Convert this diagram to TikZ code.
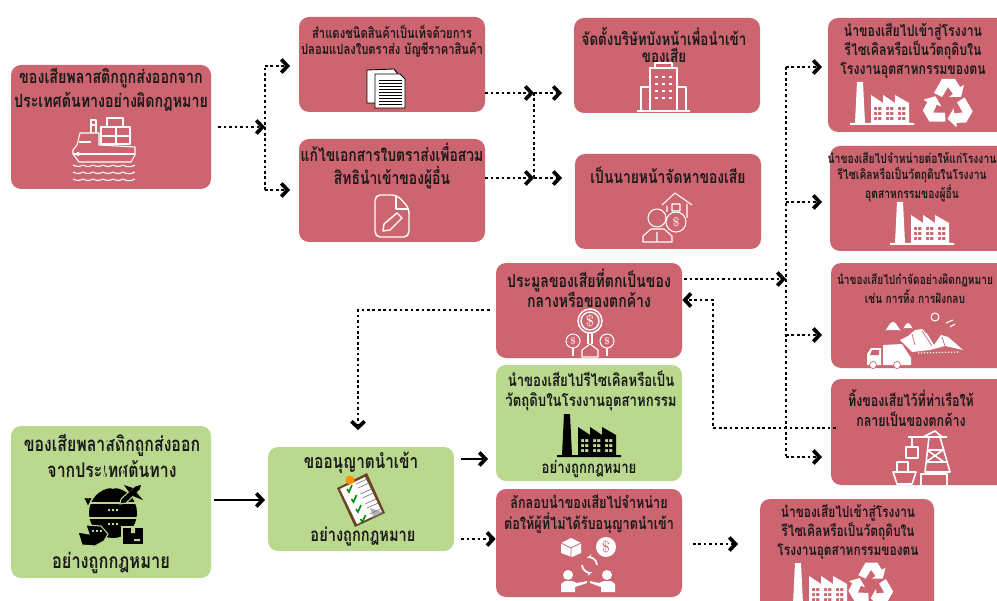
\documentclass[tikz,border=0pt]{standalone}
\usepackage{fontspec}
\newfontfamily\thaifont[Script=Thai,FakeStretch=0.78,Scale=1.3]{Loma}
\usetikzlibrary{arrows.meta,fit}
\definecolor{badred}{HTML}{CD6570}
\definecolor{okgreen}{HTML}{BAD88E}
\definecolor{inkblack}{HTML}{1A1A1A}
\newcommand{\thsize}[2]{\thaifont\bfseries\fontsize{#1}{#2}\selectfont}
\tikzset{
  redbox/.style={fill=badred,rounded corners=0.2cm,inner sep=0pt,draw=none},
  greenbox/.style={fill=okgreen,rounded corners=0.2cm,inner sep=0pt,draw=none},
  boxtxt/.style={text=inkblack,align=center,inner sep=0pt},
  dotline/.style={line width=1.5pt,dash pattern=on 1.5pt off 1.6pt,-{Straight Barb[length=3.5pt,width=7.5pt,line width=2.1pt]}},
  dotplain/.style={line width=1.5pt,dash pattern=on 1.5pt off 1.6pt},
  fullline/.style={line width=1.5pt,-{Straight Barb[length=3.5pt,width=7.5pt,line width=2.1pt]}},
  outl/.style={draw=white,line width=0.6pt,line join=round},
  factory/.pic={
    \fill[pic actions,even odd rule] (-31,0)--(33,0)--(33,-2)--(28,-2)--(28,-22)--(14,-30)--(14,-22)--(2,-30)--(2,-22)--(-10,-30)--(-10,-2)
      --(-16,-2)--(-18,-43)--(-24,-43)--(-26,-2)--(-31,-2)--cycle
      \foreach \wx in {-7,5,17} \foreach \wy in {-18,-13,-8} {(\wx,\wy) rectangle ++(3.2,3.2) (\wx+4.2,\wy) rectangle ++(3.2,3.2)};
  },
  recycle/.pic={
    \foreach \ang in {0,120,240}
      \fill[white,rotate=\ang] (-14,-11)--(-6,-25)--(7,-25)--(12,-17)--(16,-19)--(13,-7)--(1,-7)--(5,-10)--(0,-17)--(-6,-7)--cycle;
  },
}
\begin{document}
\begin{tikzpicture}[x=0.02cm,y=-0.02cm]
  \useasboundingbox (0,0) rectangle (997,601);
  \fill[white] (0,0) rectangle (997,601);

  % boxes
  \node[redbox,fit={(11,65)(211,189)}] (illegalsrc) {};
  \node[redbox,fit={(299,17)(485,112)}] (fakedoc) {};
  \node[redbox,fit={(299,139)(485,242)}] (editdoc) {};
  \node[redbox,fit={(574,18)(760,113)}] (shell) {};
  \node[redbox,fit={(575,154)(761,249)}] (broker) {};
  \node[redbox,fit={(828,18)(1012,132)}] (ownplant) {};
  \node[redbox,fit={(830,146)(1012,251)}] (resale) {};
  \node[redbox,fit={(831,263)(1012,368)}] (dumping) {};
  \node[redbox,fit={(831,379)(1012,485)}] (portleft) {};
  \node[redbox,fit={(496,263)(682,358)}] (auction) {};
  \node[greenbox,fit={(496,365)(682,481)}] (recyclegood) {};
  \node[redbox,fit={(496,489)(682,597)}] (smuggle) {};
  \node[redbox,fit={(760,499)(934,616)}] (ownplanttwo) {};
  \node[greenbox,fit={(11,426)(211,578)}] (legalsrc) {};
  \node[greenbox,fit={(268,447)(454,551)}] (permit) {};

  % texts
  \node[boxtxt,font=\thsize{8}{13.6}] (illegalsrctxt) at (111,90) {ของเสียพลาสติกถูกส่งออกจาก\\ประเทศต้นทางอย่างผิดกฎหมาย};
  \node[boxtxt,font=\thsize{6.3}{9.2}] (fakedoctxt) at (392,41) {สำแดงชนิดสินค้าเป็นเท็จด้วยการ\\ปลอมแปลงใบตราส่ง บัญชีราคาสินค้า};
  \node[boxtxt,font=\thsize{7.8}{13.6}] (editdoctxt) at (392,166) {แก้ไขเอกสารใบตราส่งเพื่อสวม\\สิทธินำเข้าของผู้อื่น};
  \node[boxtxt,font=\thsize{7.5}{9.8}] (shelltxt) at (664,45) {จัดตั้งบริษัทบังหน้าเพื่อนำเข้า\\ของเสีย};
  \node[boxtxt,font=\thsize{7.8}{10}] (brokertxt) at (668,175) {เป็นนายหน้าจัดหาของเสีย};
  \node[boxtxt,font=\thsize{6.9}{10.6}] (ownplanttxt) at (913,51) {นำของเสียไปเข้าสู่โรงงาน\\รีไซเคิลหรือเป็นวัตถุดิบใน\\โรงงานอุตสาหกรรมของตน};
  \node[boxtxt,font=\thsize{5.8}{8.8}] (resaletxt) at (912,177) {นำของเสียไปจำหน่ายต่อให้แก่โรงงาน\\รีไซเคิลหรือเป็นวัตถุดิบในโรงงาน\\อุตสาหกรรมของผู้อื่น};
  \node[boxtxt,font=\thsize{5.7}{10.8}] (dumpingtxt) at (915,289) {นำของเสียไปกำจัดอย่างผิดกฎหมาย\\เช่น การทิ้ง การฝังกลบ};
  \node[boxtxt,font=\thsize{7}{11.4}] (portlefttxt) at (911,408) {ทิ้งของเสียไว้ที่ท่าเรือให้\\กลายเป็นของตกค้าง};
  \node[boxtxt,font=\thsize{7.9}{11.4}] (auctiontxt) at (589,288) {ประมูลของเสียที่ตกเป็นของ\\กลางหรือของตกค้าง};
  \node[boxtxt,font=\thsize{7.4}{11.8}] (recyclegoodtxt) at (591,391) {นำของเสียไปรีไซเคิลหรือเป็น\\วัตถุดิบในโรงงานอุตสาหกรรม};
  \node[boxtxt,font=\thsize{7.4}{10}] (recyclegoodlaw) at (589,469) {อย่างถูกกฎหมาย};
  \node[boxtxt,font=\thsize{7.1}{12.2}] (smuggletxt) at (589,514) {ลักลอบนำของเสียไปจำหน่าย\\ต่อให้ผู้ที่ไม่ได้รับอนุญาตนำเข้า};
  \node[boxtxt,font=\thsize{6.7}{10.8}] (ownplanttwotxt) at (848,532) {นำของเสียไปเข้าสู่โรงงาน\\รีไซเคิลหรือเป็นวัตถุดิบใน\\โรงงานอุตสาหกรรมของตน};
  \node[boxtxt,font=\thsize{8.9}{14.6}] (legalsrctxt) at (112,456) {ของเสียพลาสติกถูกส่งออก\\จากประเทศต้นทาง};
  \node[boxtxt,font=\thsize{9.2}{10}] (legalsrclaw) at (111,563) {อย่างถูกกฎหมาย};
  \node[boxtxt,font=\thsize{8.6}{10}] (permittxt) at (361,463) {ขออนุญาตนำเข้า};
  \node[boxtxt,font=\thsize{8.2}{10}] (permitlaw) at (363,537) {อย่างถูกกฎหมาย};

  % connectors
  \coordinate (splita) at (265,127);
  \coordinate (splitatop) at (265,66);
  \coordinate (splitabot) at (265,190);
  \coordinate (splitb) at (534,93);
  \coordinate (splitc) at (534,178);
  \coordinate (trunktop) at (786,67);
  \coordinate (trunkbot) at (786,457);
  \coordinate (backleft) at (713,428);
  \coordinate (lawdrop) at (358,310);
  \draw[dotline,shorten <=4pt] (illegalsrc.east) -- (splita);
  \draw[dotplain] (splitabot) -- (splitatop);
  \draw[dotline] (splitatop) -- ++(25,0);
  \draw[dotline] (splitabot) -- ++(25,0);
  \draw[dotline] (splitb -| fakedoc.east) -- (splitb);
  \draw[dotline] (splitc -| editdoc.east) -- (splitc);
  \draw[dotplain] (splitb) -- (splitc);
  \draw[dotline] (splitb) -- ++(28,0);
  \draw[dotline] (splitc) -- ++(28,0);
  \draw[dotplain] (trunktop) -- (trunkbot);
  \draw[dotline] (trunktop) -- ++(36,0);
  \draw[dotline] (786,202) -- ++(36,0);
  \draw[dotline] (786,335) -- ++(36,0);
  \draw[dotline] (trunkbot) -- ++(36,0);
  \draw[dotline,shorten <=1pt] (auction.east |- 0,279) -- (786,279);
  \draw[dotline,shorten <=-3pt] (portleft.west |- backleft) -- (backleft) -- (backleft |- 0,300) -- (auction.east |- 0,300);
  \draw[dotline,shorten <=3.5pt] (auction.west |- lawdrop) -- (lawdrop) -- (358,430);
  \draw[fullline,shorten <=1.7pt] (legalsrc.east |- 0,500) -- (265,500);
  \draw[fullline,shorten <=4pt] (permit.east |- 0,459) -- (488,459);
  \draw[dotline,shorten <=4pt] (permit.east |- 0,539) -- (smuggle.west |- 0,539);
  \draw[dotline,shorten <=6pt] (smuggle.east |- 0,544) -- (738,544);

  % ship
  \begin{scope}[shift={(103,150)}]
    \draw[outl] (-30,0)--(-26,-5)--(-23,-17)--(-4,-17)--(-4,-5)--(32,-3)--(32,5)--(28,12)--(-24,12)--(-30,4)--cycle;
    \draw[outl] (-12,-17)--(-12,-30)--(-7,-30)--(-7,-17) (-12,-25)--(-7,-25);
    \draw[outl] (-2,-6) rectangle (13,-14) (13,-6) rectangle (27,-14) (-2,-14) rectangle (13,-23) (13,-14) rectangle (27,-23) (4,-23) rectangle (20,-32);
    \draw[outl] (-24,-8)--(-12,-8) (-30,4)--(32,4);
    \fill[white] (-25,4) circle (2);
    \foreach \wy in {15,22,29} \draw[outl] (-30,\wy) to[out=-30,in=210] (-20,\wy) to[out=-30,in=210] (-10,\wy) to[out=-30,in=210] (0,\wy) to[out=-30,in=210] (10,\wy) to[out=-30,in=210] (20,\wy) to[out=-30,in=210] (32,\wy);
  \end{scope}

  % documents
  \draw[fill=white,draw=black,line width=0.5pt] (367,70)--(394,69)--(398,74)--(398,103)--(367,103)--cycle;
  \draw[fill=white,draw=black,line width=0.5pt] (375,74)--(400,74)--(405,79)--(405,108)--(375,108)--cycle;
  \foreach \ly in {80,83,86,89,92,95,98,101,104} \draw[line width=0.35pt] (379,\ly) -- (402,\ly);

  % edited file
  \draw[outl,line width=0.8pt,rounded corners=3pt] (375,195)--(397,195)--(409,208)--(409,237)--(375,237)--cycle;
  \draw[outl,line width=0.8pt] (396,196)--(396,209)--(409,209);
  \draw[outl,line width=0.8pt] (383,231)--(384,224)--(397,213)--(402,218)--(390,230)--cycle;

  % building
  \draw[outl] (637,111)--(690,111) (650,111)--(650,87)--(641,87)--(641,111) (677,111)--(677,87)--(686,87)--(686,111);
  \draw[outl] (650,111)--(650,68)--(677,68)--(677,111);
  \draw[outl] (655,68)--(655,63)--(672,63)--(672,68);
  \foreach \bx in {655,662,669} \foreach \by in {76,83,90,97} \fill[white] (\bx,\by) rectangle ++(3,2);

  % broker
  \draw[outl] (662,205)--(675,193)--(692,205) (667,206)--(667,212) (687,204)--(687,218) (672,204) rectangle (680,211);
  \draw[outl] (676,222) circle (10);
  \node[text=white,inner sep=0pt,font=\fontsize{7}{7}\selectfont] (brokercoin) at (676,222) {\$};
  \draw[outl] (657,218) circle (9);
  \draw[outl] (643,242)--(643,236)--(651,229)--(664,229)--(672,236)--(672,242)--cycle (657,232)--(657,242);

  % money plant
  \draw[outl,line width=0.8pt] (590,321) circle (12) (590,321) circle (9);
  \draw[outl] (573,341) circle (7) (607,341) circle (7);
  \node[text=white,inner sep=0pt,font=\fontsize{9}{9}\selectfont] (bigcoin) at (590,321) {\$};
  \node[text=white,inner sep=0pt,font=\fontsize{5.5}{5.5}\selectfont] (leftcoin) at (573,341) {\$};
  \node[text=white,inner sep=0pt,font=\fontsize{5.5}{5.5}\selectfont] (rightcoin) at (607,341) {\$};
  \draw[outl] (573,348)--(573,356) (607,348)--(607,356) (588,333)--(588,344) (592,333)--(592,344);
  \draw[outl] (582,357)--(582,350)--(590,344)--(598,350)--(598,357)--cycle;

  % factories and recycling marks
  \pic[fill=white] at (881,125) {factory};
  \pic at (948,104) {recycle};
  \pic[fill=white] at (921,245) {factory};
  \pic[fill=black] at (588,457) {factory};
  \pic[fill=white] at (819,606) {factory};
  \pic[scale=0.9] at (871,585) {recycle};

  % landfill
  \fill[white] (885,330) to[out=-90,in=180] (893,322) to[out=0,in=-90] (901,330)--cycle (903,328) to[out=-90,in=180] (908,323) to[out=0,in=-90] (913,328)--cycle;
  \fill[white] (900,340)--(908,336)--(915,330)--(922,329)--(928,335)--(934,345)--(941,335)--(948,337)--(955,343)--(963,350)--(945,346)--(930,350)--(912,352)--cycle;
  \draw[badred,line width=0.4pt] (922,331)--(932,346) (942,337)--(945,346) (912,334)--(915,345);
  \draw[outl] (935,317) circle (4) (946,323)--(953,320) (950,327)--(955,324);
  \draw[white,densely dotted,line width=0.7pt] (918,353)--(960,352);
  \fill[white] (867,365)--(867,354)--(871,348)--(881,348)--(881,365)--cycle (883,345)--(902,344)--(911,358)--(911,365)--(883,365)--cycle;
  \fill[badred] (870,355)--(872,350)--(879,350)--(879,355)--cycle;
  \fill[white,draw=badred] (873,365) circle (3.5) (897,365) circle (3.5);

  % crane
  \draw[outl,line width=0.9pt] (908,437)--(947,437) (923,437)--(935,431)--(942,437) (929,437)--(925,472)--(950,472)--(940,437) (927,450)--(943,450) (926,462)--(947,462) (927,450)--(944,462) (943,450)--(926,462);
  \draw[outl,line width=0.9pt] (912,437)--(912,447) (906,447) rectangle (918,458);
  \draw[outl,line width=0.9pt] (893,472)--(916,472)--(912,484)--(897,484)--cycle (897,472)--(897,462)--(908,462)--(908,472);
  \draw[outl,line width=0.9pt] (921,485)--(921,474)--(947,474)--(947,485);

  % globe
  \begin{scope}[shift={(113,513)}]
    \fill[black] (0,0) ellipse (24 and 25);
    \draw[okgreen,line width=0.9pt] (0,-25) arc (90:270:10 and 25) (0,-25) arc (90:-90:10 and 25) (-24,-10)--(24,-10) (-24,5)--(24,5);
    \foreach \gy in {-4,10} \fill[okgreen] (-5,\gy) rectangle ++(2,2) (-1,\gy) rectangle ++(2,2) (3,\gy) rectangle ++(2,2);
  \end{scope}
  \draw[fill=black,draw=okgreen,line width=0.6pt] (80,490) arc (180:0:8) -- (88,507) -- cycle;
  \fill[okgreen] (88,488) circle (3.5);
  \draw[fill=black,draw=okgreen,line width=0.6pt] (142,484)--(135,486)--(121,499)--(120,504)--(126,503)--(140,490)--cycle;
  \fill[black] (124,485)--(133,488)--(129,492)--cycle (143,500)--(136,492)--(133,496)--cycle;
  \draw[fill=black,draw=okgreen,line width=0.6pt] (78,532)--(89,534)--(86,525)--(101,526)--(108,534)--(104,541)--(95,546)--(82,545)--cycle;
  \foreach \sx in {92,96,100} \fill[okgreen] (\sx,530) rectangle ++(2,2);
  \draw[fill=black,draw=okgreen,line width=0.6pt] (122,527) rectangle (144,545);
  \fill[okgreen] (131,527) rectangle (135,533) (134,539) rectangle (140,541);

  % clipboard
  \fill[brown!55!black] (337,488)--(367,473)--(385,513)--(355,527)--cycle;
  \fill[white] (340,489)--(365,477)--(382,512)--(357,524)--cycle;
  \fill[gray!60] (382,512)--(373,516)--(370,508)--cycle;
  \fill[orange!85!yellow] (350,480) circle (4.5);
  \foreach \stepn in {0,1,2,3} {
    \draw[green!55!black,line width=0.9pt] (347+\stepn*4.5,489+\stepn*10)--++(2,3)--++(3,-7);
    \draw[gray,line width=0.4pt] (356+\stepn*4.5,484+\stepn*10)--++(11,-5) (358+\stepn*4.5,488+\stepn*10)--++(11,-5);
  }

  % trade
  \fill[white] (571,538)--(581,543)--(581,553)--(572,557)--(561,553)--(561,543)--cycle;
  \draw[badred,line width=0.5pt] (561,543)--(571,548)--(581,543) (571,548)--(571,557);
  \fill[white] (606,547) circle (10);
  \node[text=badred,inner sep=0pt,font=\fontsize{9}{9}\selectfont] (tradecoin) at (606,547) {\$};
  \draw[outl,line width=1pt,-{Stealth[length=3pt]}] (582,565) arc (180:70:7.5);
  \draw[outl,line width=1pt,-{Stealth[length=3pt]}] (597,565) arc (0:-110:7.5);
  \fill[white] (568,575) circle (5) (607,575) circle (5);
  \fill[white] (561,592)--(561,584)--(565,581)--(572,581)--(577,583)--(587,581)--(587,583)--(575,587)--(575,592)--cycle;
  \fill[white] (615,592)--(615,584)--(611,581)--(604,581)--(599,583)--(590,581)--(590,583)--(601,587)--(601,592)--cycle;
\end{tikzpicture}
\end{document}
